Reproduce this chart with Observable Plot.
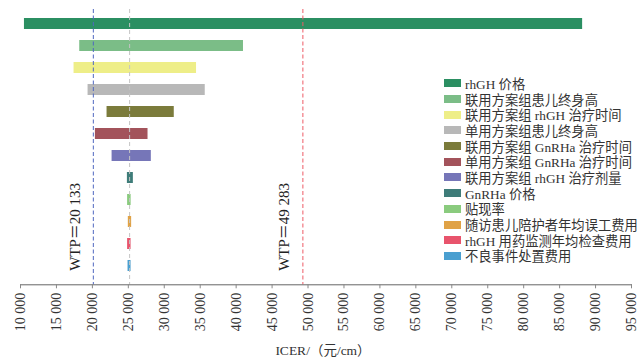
<!DOCTYPE html>
<html><head><meta charset="utf-8">
<script src="https://cdn.jsdelivr.net/npm/d3@7"></script>
<script src="https://cdn.jsdelivr.net/npm/@observablehq/plot@0.6"></script>
<style>
body{margin:0;background:#fff;}
#wrap{position:relative;width:638px;height:362px;overflow:hidden;font-family:"Liberation Serif","Noto Sans CJK SC",serif;}
#legend{position:absolute;left:444px;top:75.5px;width:194px;}
#legend .lg-swatches{font-family:"Liberation Serif","Noto Sans CJK SC",serif !important;font-size:13.3px !important;color:#333;margin:0;}
#legend .lg-swatch{height:15.7px;padding-bottom:0 !important;}
#legend .lg-swatch > svg{margin-right:4px !important;}
#legend .lg-swatch-label{overflow:visible !important;text-overflow:clip !important;}
</style></head><body><div id="wrap"><div id="chart"></div><div id="legend"></div></div>
<script>
const factors = ["rhGH 价格","联用方案组患儿终身高","联用方案组 rhGH 治疗时间","单用方案组患儿终身高","联用方案组 GnRHa 治疗时间","单用方案组 GnRHa 治疗时间","联用方案组 rhGH 治疗剂量","GnRHa 价格","贴现率","随访患儿陪护者年均误工费用","rhGH 用药监测年均检查费用","不良事件处置费用"];
const lowValues  = [10550, 18240, 17450, 19400, 22040, 20420, 22740, 24870, 24900, 25000, 24900, 24960];
const highValues = [88200, 41020, 34490, 35700, 31390, 27740, 28200, 25700, 25390, 25460, 25380, 25380];
const colors = ["#2b8f62","#7bbd87","#eeee88","#b8b8b8","#7b7b3b","#a3535b","#7676b8","#3e7c79","#8acb7e","#e0a246","#e8546c","#4a9fd0"];
const xTicks = d3.range(10000, 95001, 5000);
const baseICER = 25180;
const wtpValues = [20133, 49283];
const wtpLabels = ["WTP＝20 133", "WTP＝49 283"];
const wtpColors = ["#5068c0", "#ee5a66"];
const xLabel = "ICER/（元/cm）";

const data = factors.map((f, i) => ({factor: f, low: lowValues[i], high: highValues[i]}));
const fmt = d => d3.format(",")(d).replace(/,/g, " ");

const chart = Plot.plot({
  width: 638, height: 362,
  marginLeft: 20, marginRight: 7, marginTop: 9, marginBottom: 77.7,
  style: {fontFamily: '"Liberation Serif","Noto Sans CJK SC",serif', fontSize: "14px", color: "#333", background: "transparent"},
  x: {domain: [10000, 95000]},
  y: {domain: factors, range: [2.8, 286.3], paddingInner: 0.5, paddingOuter: 0.5, axis: null},
  color: {domain: factors, range: colors},
  marks: [
    Plot.barX(data, {x1: "low", x2: "high", y: "factor", fill: "factor"}),
    Plot.ruleX([baseICER], {stroke: "#c4c4c4", strokeDasharray: "4,3"}),
    Plot.ruleX([wtpValues[0]], {stroke: wtpColors[0], strokeDasharray: "4,2.5"}),
    Plot.ruleX([wtpValues[1]], {stroke: wtpColors[1], strokeDasharray: "4,2.5"}),
    Plot.text(wtpValues, {x: d => d, text: (d, i) => wtpLabels[i], frameAnchor: "bottom", rotate: -90, textAnchor: "start", dx: -13.5, dy: -14, fontSize: 15, fill: "#222"}),
    Plot.frame({anchor: "bottom", stroke: "#666"}),
    Plot.axisX({ticks: xTicks, tickFormat: fmt, tickRotate: -90, tickSize: 4, tickPadding: 4, label: null, stroke: "#888"}),
    Plot.text([xLabel], {frameAnchor: "bottom", dy: 70, dx: -3, fontSize: 13.5, fill: "#333"})
  ]
});
document.getElementById("chart").appendChild(chart);

const legend = Plot.legend({
  color: {domain: factors, range: colors},
  legend: "swatches", columns: 1, swatchWidth: 17, swatchHeight: 8, className: "lg"
});
document.getElementById("legend").appendChild(legend);
</script></body></html>
